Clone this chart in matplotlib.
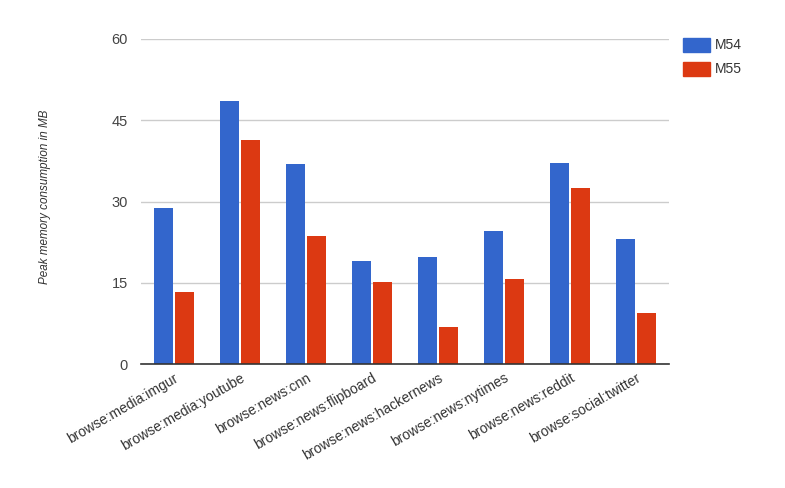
import matplotlib
matplotlib.use("Agg")
import matplotlib.pyplot as plt
import numpy as np
from matplotlib.patches import Rectangle

categories = ["browse:media:imgur", "browse:media:youtube", "browse:news:cnn",
              "browse:news:flipboard", "browse:news:hackernews", "browse:news:nytimes",
              "browse:news:reddit", "browse:social:twitter"]
m54 = [28.8, 48.5, 37.0, 19.0, 19.7, 24.6, 37.1, 23.1]
m55 = [13.3, 41.3, 23.7, 15.1, 6.8, 15.7, 32.5, 9.4]
series_names = ["M54", "M55"]
yticks = [0, 15, 30, 45, 60]

plt.rcParams['font.family'] = ['Liberation Sans', 'DejaVu Sans']

fig = plt.figure(figsize=(7.85, 4.88), dpi=100)
ax = fig.add_axes([141/785, 1 - 364/488, (669 - 141)/785, (364 - 39)/488])

x = np.arange(len(categories))
w = 0.3
c54, c55 = "#3366CC", "#DC3912"
ax.bar(x - w/2 - 0.008, m54, width=w, color=c54, zorder=3)
ax.bar(x + w/2 + 0.008, m55, width=w, color=c55, zorder=3)

ax.set_xlim(-0.5, len(categories) - 0.5)
ax.set_ylim(0, 60)
ax.set_yticks(yticks)
ax.set_yticklabels([str(v) for v in yticks], color="#444444", fontsize=10.5)
ax.tick_params(axis='y', length=0, pad=9.5)
ax.tick_params(axis='x', length=0, pad=5)
ax.grid(axis='y', color="#cccccc", linewidth=1, zorder=0)
for s in ["top", "right", "left"]:
    ax.spines[s].set_visible(False)
ax.spines["bottom"].set_color("#333333")
ax.spines["bottom"].set_linewidth(1.2)
ax.spines["bottom"].set_zorder(4)

ax.set_xticks(x)
ax.set_xticklabels(categories, rotation=30, ha='right', rotation_mode='anchor',
                   fontsize=10, color="#333333")

fig.text(45/785, 1 - 197/488, "Peak memory consumption in MB", rotation=90,
         style='italic', fontsize=8.4, color="#333333", ha='center', va='center')

# legend
for i, (name, col) in enumerate(zip(series_names, [c54, c55])):
    y0 = 38 + i * 24
    fig.patches.append(Rectangle((683/785, 1 - (y0 + 14)/488), 27/785, 14/488,
                                 transform=fig.transFigure, color=col))
    fig.text(715/785, 1 - (y0 + 7)/488, name, fontsize=10, color="#333333",
             va='center', ha='left')

fig.savefig("out.png", dpi=100)
